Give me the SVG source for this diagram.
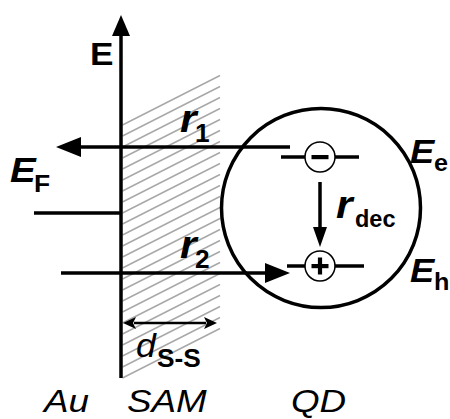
<svg xmlns="http://www.w3.org/2000/svg" width="450" height="419" viewBox="0 0 450 419">
<style>
.ln{stroke:#000;stroke-width:3.5;fill:none}
.hatch{stroke:#a8a8a8;stroke-width:1.5;fill:none}
.lab{font-family:"Liberation Sans",Arial,sans-serif;fill:#000}
.bi{font-weight:bold;font-style:italic}
.b{font-weight:bold}
.i{font-style:italic}
.dot{fill:#fff;stroke:#000;stroke-width:1.5}
</style>
<defs>
<marker id="ahBig" markerUnits="userSpaceOnUse" markerWidth="26" markerHeight="20" refX="1" refY="10" orient="auto" overflow="visible">
<path d="M0,0 L25,10 L0,20 z" fill="#000"/>
</marker>
<marker id="ahAxis" markerUnits="userSpaceOnUse" markerWidth="21" markerHeight="18" refX="1" refY="9" orient="auto" overflow="visible">
<path d="M0,0 L21,9 L0,18 z" fill="#000"/>
</marker>
<marker id="ahMid" markerUnits="userSpaceOnUse" markerWidth="20" markerHeight="14" refX="1" refY="7" orient="auto" overflow="visible">
<path d="M0,0 L20,7 L0,14 z" fill="#000"/>
</marker>
<marker id="ahSmall" markerUnits="userSpaceOnUse" markerWidth="13" markerHeight="12" refX="2" refY="6" orient="auto" overflow="visible">
<path d="M0,0 L13,6 L0,12 L3,6 z" fill="#000"/>
</marker>
<marker id="ahSmallStart" markerUnits="userSpaceOnUse" markerWidth="13" markerHeight="12" refX="11" refY="6" orient="auto" overflow="visible">
<path d="M13,0 L0,6 L13,12 L10,6 z" fill="#000"/>
</marker>
</defs>

<g id="sam-hatch">
<path class="hatch" d="M122.5,125L220,75.5M122.5,136L220,86.5M122.5,147L220,97.5M122.5,158L220,108.5M122.5,169L220,119.5M122.5,180L220,130.5M122.5,191L220,141.5M122.5,202L220,152.5M122.5,213L220,163.5M122.5,224L220,174.5M122.5,235L220,185.5M122.5,246L220,196.5M122.5,257L220,207.5M122.5,268L220,218.5M122.5,279L220,229.5M122.5,290L220,240.5M122.5,301L220,251.5M122.5,312L220,262.5M122.5,323L220,273.5M122.5,334L220,284.5M122.5,345L220,295.5M122.5,356L220,306.5M122.5,367L220,317.5M122.5,378L220,328.5"/>
</g>

<g id="qd">
<circle cx="321" cy="208" r="99.5" class="ln"/>
</g>

<g id="fermi-level">
<line x1="34" y1="213" x2="121" y2="213" class="ln"/>
</g>

<g id="connectors">
<line x1="121" y1="378" x2="121" y2="35" class="ln" marker-end="url(#ahAxis)"/>
<line x1="290" y1="147" x2="80" y2="147" class="ln" marker-end="url(#ahBig)"/>
<line x1="61" y1="273" x2="266" y2="273" class="ln" marker-end="url(#ahBig)"/>
<line x1="320" y1="182" x2="320" y2="228" class="ln" marker-end="url(#ahMid)"/>
<line x1="134" y1="323" x2="206" y2="323" stroke="#000" stroke-width="2.6" marker-start="url(#ahSmallStart)" marker-end="url(#ahSmall)"/>
</g>

<g id="electron-level">
<line x1="281" y1="157" x2="359" y2="157" stroke="#000" stroke-width="3.3"/>
<circle cx="320" cy="157" r="15" class="dot"/>
<rect x="311.5" y="155" width="17" height="4.2" fill="#000"/>
</g>

<g id="hole-level">
<line x1="287" y1="266" x2="364" y2="266" stroke="#000" stroke-width="3.3"/>
<circle cx="320" cy="266" r="15" class="dot"/>
<rect x="311.5" y="264" width="17" height="4.2" fill="#000"/>
<rect x="317.9" y="257.5" width="4.2" height="17" fill="#000"/>
</g>

<g id="labels">
<text class="lab b" transform="translate(90,65) scale(1.1,1)" font-size="32">E</text>
<text class="lab bi" transform="translate(10,182) scale(1.1,1)" font-size="35">E</text>
<text class="lab b" transform="translate(34,192) scale(1.1,1)" font-size="24">F</text>
<text class="lab bi" transform="translate(180,132) scale(1.12,1)" font-size="38">r</text>
<text class="lab b" transform="translate(195,142) scale(1.05,1)" font-size="25">1</text>
<text class="lab bi" transform="translate(180,258) scale(1.12,1)" font-size="38">r</text>
<text class="lab b" transform="translate(195,268) scale(1.05,1)" font-size="25">2</text>
<text class="lab bi" transform="translate(336,218) scale(1.12,1)" font-size="38">r</text>
<text class="lab b" x="355" y="227" font-size="23.5">dec</text>
<text class="lab bi" transform="translate(410,163) scale(1.1,1)" font-size="33">E</text>
<text class="lab b" transform="translate(434,171) scale(1.05,1)" font-size="24">e</text>
<text class="lab bi" transform="translate(410,282) scale(1.1,1)" font-size="33">E</text>
<text class="lab b" transform="translate(434,290) scale(1.05,1)" font-size="24">h</text>
<text class="lab i" transform="translate(136,357) scale(1.08,1)" font-size="33">d</text>
<text class="lab b" transform="translate(157,367) scale(1.05,1)" font-size="25">S-S</text>
<text class="lab i" transform="translate(44,412) scale(1.15,1)" font-size="32">Au</text>
<text class="lab i" transform="translate(127,412) scale(1.15,1)" font-size="32">SAM</text>
<text class="lab i" transform="translate(291,412) scale(1.15,1)" font-size="32">QD</text>
</g>
</svg>
